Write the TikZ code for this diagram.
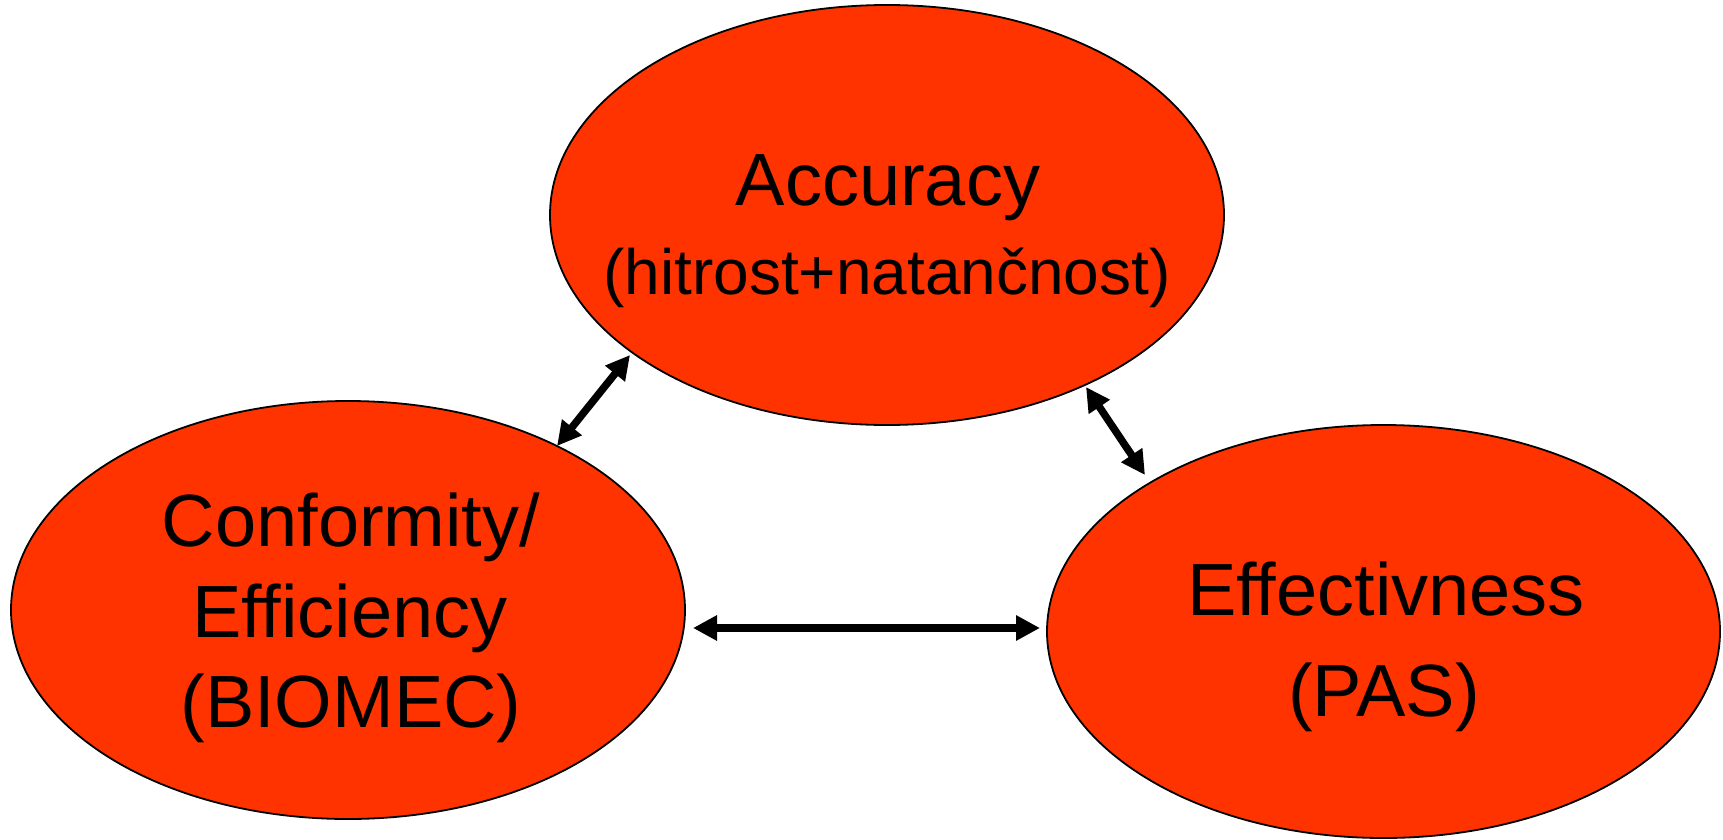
\documentclass[tikz,border=0pt]{standalone}
\usepackage{fontspec}
\setmainfont{Liberation Sans}
\usetikzlibrary{shapes.geometric,arrows.meta}
\definecolor{ellred}{HTML}{FF3300}
\begin{document}
\begin{tikzpicture}[x=1pt,y=-1pt,
  oval/.style={ellipse,draw=black,line width=1.8pt,fill=ellred,inner sep=0pt},
  bigtxt/.style={anchor=base,inner sep=0pt,font=\fontsize{74}{88}\selectfont},
  smalltxt/.style={anchor=base,inner sep=0pt,font=\fontsize{64}{76}\selectfont},
  link/.style={line width=7.5pt,{Triangle[length=24pt,width=24pt]}-{Triangle[length=24pt,width=24pt]}}]
\useasboundingbox (0,0) rectangle (1723,840);
\node[oval,minimum width=674pt,minimum height=420pt] (acc) at (887,215) {};
\node[oval,minimum width=674pt,minimum height=418pt] (conf) at (348,610) {};
\node[oval,minimum width=673pt,minimum height=413pt] (eff) at (1383.5,631.5) {};
\node[bigtxt] (acc1) at (888,205) {Accuracy};
\node[smalltxt] (acc2) at (887,294.5) {(hitrost+natančnost)};
\node[bigtxt] (conf1) at (351,546) {Conformity/};
\node[bigtxt] (conf2) at (350,637) {Efficiency};
\node[bigtxt] (conf3) at (351,727) {(BIOMEC)};
\node[bigtxt] (eff1) at (1386,615) {Effectivness};
\node[bigtxt] (eff2) at (1384,716) {(PAS)};
\coordinate (a1) at (630,355);
\coordinate (c1) at (557,446);
\coordinate (a2) at (1086,387);
\coordinate (e2) at (1145,475);
\coordinate (c3) at (693,628);
\coordinate (e3) at (1040,628);
\draw[link] (a1) -- (c1);
\draw[link] (a2) -- (e2);
\draw[link] (c3) -- (e3);
\end{tikzpicture}
\end{document}
